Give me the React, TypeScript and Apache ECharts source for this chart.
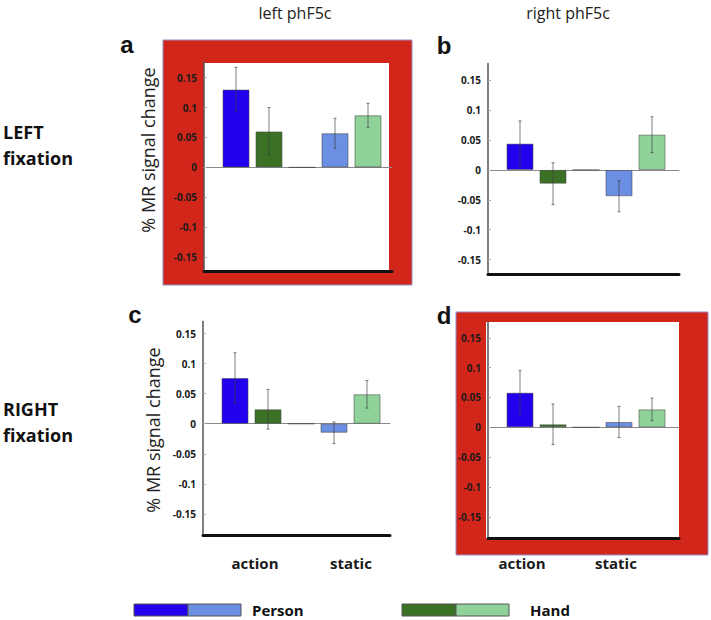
import React, { useEffect, useRef } from "react";
import * as echarts from "echarts";

// ---- data ----
const categories = ["action", "static"];
const groups = ["Person", "Hand"];
const columnTitles = ["left phF5c", "right phF5c"];
const rowTitles = ["LEFT\nfixation", "RIGHT\nfixation"];
const panelLetters = ["a", "b", "c", "d"];
const yAxisTitle = "% MR signal change";
// bar order: Person-action, Hand-action, (gap), Person-static, Hand-static
const barColors = ["#2200ee", "#3b7124", "#888888", "#6b8fe3", "#8fd39a"];

const meansA = [0.13, 0.06, 0, 0.057, 0.087];
const errorsA = [0.037, 0.04, 0, 0.025, 0.02];
const meansB = [0.044, -0.023, 0, -0.044, 0.059];
const errorsB = [0.038, 0.035, 0, 0.026, 0.03];
const meansC = [0.076, 0.024, 0, -0.015, 0.049];
const errorsC = [0.042, 0.033, 0, 0.018, 0.023];
const meansD = [0.058, 0.005, 0, 0.009, 0.03];
const errorsD = [0.037, 0.034, 0, 0.026, 0.019];

const SLOT = 33;
const X0 = 0.03;

const panels = [
  { means: meansA, errors: errorsA, left: 204, top: 62, width: 188, height: 209, yMin: -0.173, yMax: 0.176 },
  { means: meansB, errors: errorsB, left: 488, top: 63.5, width: 191, height: 210.5, yMin: -0.174, yMax: 0.178 },
  { means: meansC, errors: errorsC, left: 203, top: 321.5, width: 187, height: 213.5, yMin: -0.185, yMax: 0.17 },
  { means: meansD, errors: errorsD, left: 488, top: 321.7, width: 191, height: 216.6, yMin: -0.186, yMax: 0.177 },
];

const FONT = '"Open Sans", "DejaVu Sans", sans-serif';

function tickFormatter(v: number) {
  const k = v * 20;
  if (Math.abs(k - Math.round(k)) > 1e-6) return "";
  return String(+v.toFixed(2));
}

export default function App() {
  const ref = useRef<HTMLDivElement>(null);
  useEffect(() => {
    if (!ref.current) return;
    const chart = echarts.init(ref.current, undefined, { renderer: "svg" });

    const grids: any[] = [];
    const xAxes: any[] = [];
    const yAxes: any[] = [];
    const series: any[] = [];

    panels.forEach((p, i) => {
      grids.push({ left: p.left, top: p.top, width: p.width, height: p.height, containLabel: false });
      const xMax = X0 + p.width / SLOT;
      xAxes.push({
        gridIndex: i, type: "value", min: X0, max: xMax, position: "bottom",
        axisLine: { show: true, onZero: true, lineStyle: { color: "#8a8a8a", width: 1 } },
        axisTick: { show: false }, axisLabel: { show: false }, splitLine: { show: false },
      });
      xAxes.push({
        gridIndex: i, type: "value", min: X0, max: xMax, position: "bottom",
        axisLine: { show: true, onZero: false, lineStyle: { color: "#111111", width: 3 } },
        axisTick: { show: false }, axisLabel: { show: false }, splitLine: { show: false },
      });
      yAxes.push({
        gridIndex: i, type: "value", min: p.yMin, max: p.yMax, splitNumber: 7,
        axisLine: { show: true, onZero: false, lineStyle: { color: "#555555", width: 1.5 } },
        axisTick: { show: true, inside: true, length: 3, lineStyle: { color: "#aaaaaa" } },
        axisLabel: {
          fontSize: 10, fontWeight: "bold", color: "#1a1a1a", fontFamily: FONT, margin: 7,
          formatter: tickFormatter, showMinLabel: false, showMaxLabel: false,
        },
        splitLine: { show: false },
      });
      series.push({
        type: "bar", xAxisIndex: 2 * i, yAxisIndex: i, barWidth: 27, z: 2,
        itemStyle: { borderColor: "rgba(70,70,70,0.55)", borderWidth: 1 },
        data: p.means.map((v, k) => ({ value: [k + 1, v], itemStyle: { color: barColors[k] } })),
      });
      series.push({
        type: "custom", xAxisIndex: 2 * i, yAxisIndex: i, z: 3, silent: true,
        encode: { x: 0, y: 1 },
        data: p.means.map((v, k) => [k + 1, v, p.errors[k]]),
        renderItem: (params: any, api: any) => {
          const x = api.value(0);
          const m = api.value(1);
          const e = api.value(2);
          if (!e) return null;
          const t = api.coord([x, m + e]);
          const b = api.coord([x, m - e]);
          const st = { stroke: "rgba(60,60,60,0.65)", lineWidth: 1 };
          return {
            type: "group",
            children: [
              { type: "line", shape: { x1: t[0], y1: t[1], x2: b[0], y2: b[1] }, style: st },
              { type: "line", shape: { x1: t[0] - 1.5, y1: t[1], x2: t[0] + 1.5, y2: t[1] }, style: st },
              { type: "line", shape: { x1: b[0] - 1.5, y1: b[1], x2: b[0] + 1.5, y2: b[1] }, style: st },
            ],
          };
        },
      });
    });

    const red = "#d3261b";
    const redStroke = "#8d90c8";
    const graphics: any[] = [
      // red highlight frames
      { type: "rect", z: -10, shape: { x: 163, y: 40, width: 249, height: 245 }, style: { fill: red, stroke: redStroke, lineWidth: 1 } },
      { type: "rect", z: -9, shape: { x: 204, y: 63, width: 185, height: 209 }, style: { fill: "#ffffff" } },
      { type: "rect", z: -10, shape: { x: 456, y: 312, width: 252, height: 243 }, style: { fill: red, stroke: redStroke, lineWidth: 1 } },
      { type: "rect", z: -9, shape: { x: 486, y: 322, width: 193, height: 217 }, style: { fill: "#ffffff" } },
      // column titles
      { type: "text", x: 295, y: 13, style: { text: columnTitles[0], fontSize: 16, fontFamily: FONT, fill: "#222", textAlign: "center", textVerticalAlign: "middle" } },
      { type: "text", x: 568, y: 13, style: { text: columnTitles[1], fontSize: 16, fontFamily: FONT, fill: "#222", textAlign: "center", textVerticalAlign: "middle" } },
      // row titles
      { type: "text", x: 3, y: 145, style: { text: rowTitles[0], fontSize: 18, fontWeight: "bold", lineHeight: 26, fontFamily: FONT, fill: "#111", textAlign: "left", textVerticalAlign: "middle" } },
      { type: "text", x: 3, y: 422, style: { text: rowTitles[1], fontSize: 18, fontWeight: "bold", lineHeight: 26, fontFamily: FONT, fill: "#111", textAlign: "left", textVerticalAlign: "middle" } },
      // panel letters
      { type: "text", x: 127, y: 56, style: { text: panelLetters[0], fontSize: 24, fontWeight: "bold", fontFamily: '"Liberation Sans", Arial, sans-serif', fill: "#111", textAlign: "center", textVerticalAlign: "bottom" } },
      { type: "text", x: 444, y: 57, style: { text: panelLetters[1], fontSize: 24, fontWeight: "bold", fontFamily: '"Liberation Sans", Arial, sans-serif', fill: "#111", textAlign: "center", textVerticalAlign: "bottom" } },
      { type: "text", x: 135, y: 326, style: { text: panelLetters[2], fontSize: 24, fontWeight: "bold", fontFamily: '"Liberation Sans", Arial, sans-serif', fill: "#111", textAlign: "center", textVerticalAlign: "bottom" } },
      { type: "text", x: 444, y: 327, style: { text: panelLetters[3], fontSize: 24, fontWeight: "bold", fontFamily: '"Liberation Sans", Arial, sans-serif', fill: "#111", textAlign: "center", textVerticalAlign: "bottom" } },
      // y axis titles
      { type: "text", x: 148, y: 150, rotation: Math.PI / 2, style: { text: yAxisTitle, fontSize: 18, fontFamily: FONT, fill: "#222", textAlign: "center", textVerticalAlign: "middle" } },
      { type: "text", x: 153, y: 430, rotation: Math.PI / 2, style: { text: yAxisTitle, fontSize: 18, fontFamily: FONT, fill: "#222", textAlign: "center", textVerticalAlign: "middle" } },
      // category labels
      { type: "text", x: 255, y: 563, style: { text: categories[0], fontSize: 15, fontWeight: "bold", fontFamily: FONT, fill: "#1a1a1a", textAlign: "center", textVerticalAlign: "middle" } },
      { type: "text", x: 351, y: 563, style: { text: categories[1], fontSize: 15, fontWeight: "bold", fontFamily: FONT, fill: "#1a1a1a", textAlign: "center", textVerticalAlign: "middle" } },
      { type: "text", x: 522, y: 563, style: { text: categories[0], fontSize: 15, fontWeight: "bold", fontFamily: FONT, fill: "#1a1a1a", textAlign: "center", textVerticalAlign: "middle" } },
      { type: "text", x: 616, y: 563, style: { text: categories[1], fontSize: 15, fontWeight: "bold", fontFamily: FONT, fill: "#1a1a1a", textAlign: "center", textVerticalAlign: "middle" } },
      // legend
      { type: "rect", shape: { x: 134, y: 604, width: 54, height: 12 }, style: { fill: barColors[0], stroke: "#555", lineWidth: 1 } },
      { type: "rect", shape: { x: 188, y: 604, width: 53, height: 12 }, style: { fill: barColors[3], stroke: "#555", lineWidth: 1 } },
      { type: "text", x: 252, y: 610, style: { text: groups[0], fontSize: 15, fontWeight: "bold", fontFamily: FONT, fill: "#111", textAlign: "left", textVerticalAlign: "middle" } },
      { type: "rect", shape: { x: 402, y: 604, width: 54, height: 12 }, style: { fill: barColors[1], stroke: "#555", lineWidth: 1 } },
      { type: "rect", shape: { x: 456, y: 604, width: 53, height: 12 }, style: { fill: barColors[4], stroke: "#555", lineWidth: 1 } },
      { type: "text", x: 530, y: 610, style: { text: groups[1], fontSize: 15, fontWeight: "bold", fontFamily: FONT, fill: "#111", textAlign: "left", textVerticalAlign: "middle" } },
    ];

    chart.setOption({
      animation: false,
      backgroundColor: "#ffffff",
      grid: grids,
      xAxis: xAxes,
      yAxis: yAxes,
      series,
      graphic: graphics,
    });
    return () => chart.dispose();
  }, []);
  return <div ref={ref} style={{ position: "absolute", left: 0, top: 0, width: 711, height: 620 }} />;
}
